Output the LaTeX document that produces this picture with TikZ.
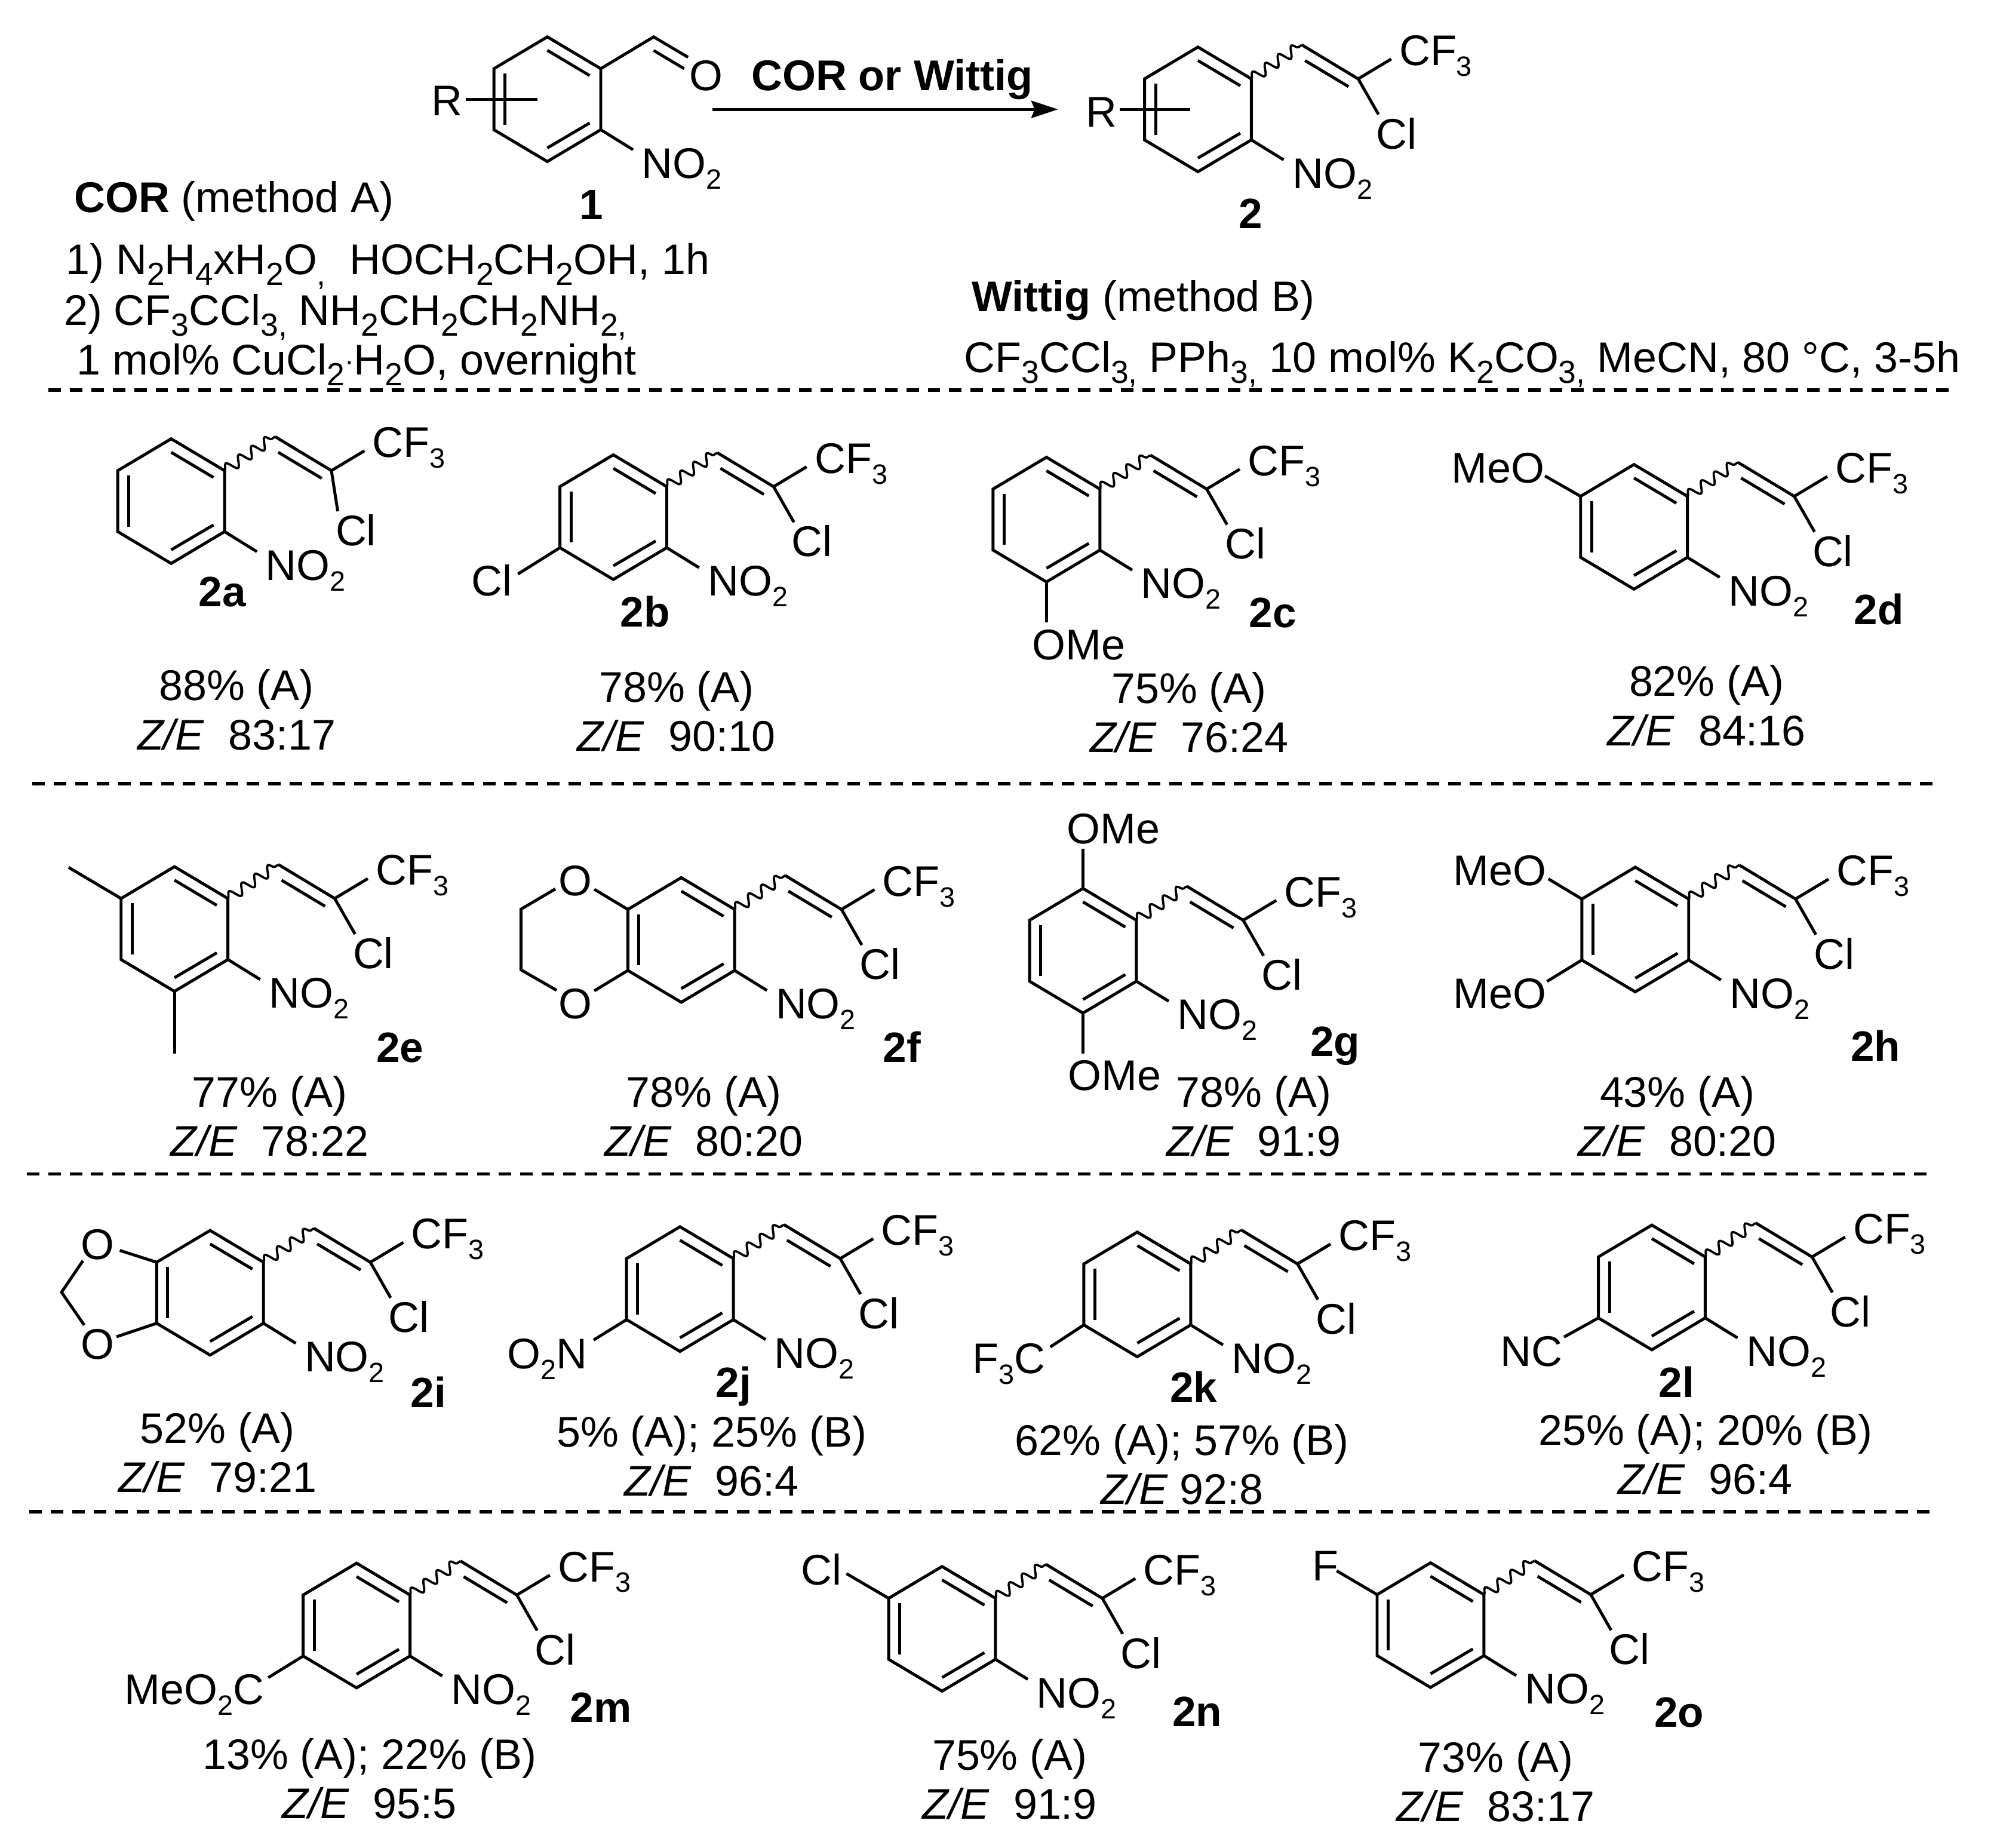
\documentclass[tikz,border=0pt]{standalone}
\usepackage{fontspec}
\setmainfont{Liberation Sans}
\usepackage{tikz}
\usetikzlibrary{arrows.meta}
\usetikzlibrary{decorations.pathmorphing}

\tikzset{
  bond/.style={line width=1.32pt},
  wavy/.style={line width=1pt,decorate,decoration={snake,amplitude=2.4pt,segment length=7pt}},
  divider/.style={line width=1.5pt,dash pattern=on 5.6pt off 4pt},
  txt/.style={anchor=base west,inner sep=0pt},
  mid/.style={anchor=base,inner sep=0pt},
  cpd/.style={txt,font=\fontsize{19}{22}\selectfont\bfseries}
}
\newcommand{\chemsub}[1]{\raisebox{-0.25em}{\fontsize{12.5}{12.5}\selectfont #1}}
% subscripts of the condition lines are a little larger
\newcommand{\condsub}[1]{\raisebox{-0.25em}{\fontsize{14.3}{14.3}\selectfont #1}}
\newcommand{\ze}{\textit{Z/E}}

% ring with the nitro group, (x,y) is the carbon next to the side chain
\newcommand{\arene}[3]{
  \begin{scope}[shift={(#2,#3)}]
    \draw[bond] (0,0) -- (0,48) -- (-42,73) -- (-84,48) -- (-84,0) -- (-42,-25) -- cycle;
    \draw[bond] (-42,-14.4) -- (-8.7,5.4);
    \draw[bond] (-8.7,42.7) -- (-42,62.3);
    \draw[bond] (-75.3,3.8) -- (-75.3,44);
    \draw[bond] (0,48) -- (25.4,63.7);
    \coordinate (#1top) at (-42,-25);
    \coordinate (#1bot) at (-42,73);
    \coordinate (#1ul) at (-84,0);
    \coordinate (#1ll) at (-84,48);
    \node[txt] (#1no) at (32,86) {NO\chemsub{2}};
  \end{scope}
}
% ring plus the chloro-trifluoropropenyl chain
\newcommand{\styrene}[4][16,28]{
  \arene{#2}{#3}{#4}
  \begin{scope}[shift={(#3,#4)}]
    \draw[wavy] (0,0) -- (39.7,-26.7);
    \draw[bond] (39.7,-26.7) -- (84,0) -- (110,-15.6);
    \draw[bond] (42.2,-14.4) -- (76.4,6.1);
    \draw[bond] (84,0) -- ++(#1) coordinate (#2clend);
    \node[txt] (#2cf) at (116,-10.5) {CF\chemsub{3}};
    \node[txt] (#2cl) at ([shift={(-2,27)}]#2clend) {Cl};
  \end{scope}
}
\newcommand{\yield}[5]{
  \node[mid] (#1y) at (#2,#3) {#4};
  \node[mid] (#1r) at (#2,#3+38.7) {#5};
}

\begin{document}
\begin{tikzpicture}[x=0.02cm,y=-0.02cm,font=\fontsize{19.2}{22}\selectfont]
\useasboundingbox (0,0) rectangle (1568,1452.5);

% reaction
\arene{one}{472.4}{54}
\draw[bond] (472.4,54) -- (514,29) -- (541,45);
\draw[bond] (514,39.7) -- (538,54);
\draw[bond] (366.5,78) -- (422.5,78);
\node[txt] (oxygen) at (542,71) {O};
\node[txt] (rone) at (339,91) {R};
\node[cpd] (labelone) at (455.6,172.6) {1};
\node[txt,font=\fontsize{19.25}{22}\selectfont\bfseries] (arrowlabel) at (590.4,71) {COR or Wittig};
\coordinate (arrowstart) at (560,86);
\coordinate (arrowend) at (832,86);
\draw[bond,-{Stealth[length=0.42cm,width=0.27cm,inset=1.5pt]}] (arrowstart) -- (arrowend);
\styrene{two}{984}{62}
\draw[bond] (880.6,86) -- (936,86);
\node[txt] (rtwo) at (853.5,99.8) {R};
\node[cpd] (labeltwo) at (974,179.6) {2};

% conditions
\node[txt] (cor) at (58,167) {\textbf{COR} (method A)};
\node[txt] (corone) at (51.5,216) {1) N\condsub{2}H\condsub{4}xH\condsub{2}O\condsub{,}\ \ HOCH\condsub{2}CH\condsub{2}OH, 1h};
\node[txt] (cortwo) at (50,255.5) {2) CF\condsub{3}CCl\condsub{3,} NH\condsub{2}CH\condsub{2}CH\condsub{2}NH\condsub{2,}};
\node[txt] (corthree) at (60,294.8) {1 mol\% CuCl\condsub{2}\raisebox{0.1em}{\fontsize{12.5}{12.5}\selectfont ·}H\condsub{2}O, overnight};
\node[txt] (wittig) at (764,245) {\textbf{Wittig} (method B)};
\node[txt] (wittigcond) at (758,292.6) {CF\condsub{3}CCl\condsub{3,} PPh\condsub{3,} 10 mol\% K\condsub{2}CO\condsub{3,} MeCN, 80 °C, 3-5h};

\draw[divider] (38,306.5) -- (1535,306.5);
\draw[divider] (25.5,616) -- (1522,616);
\draw[divider] (21,923) -- (1517,923);
\draw[divider] (23,1188.6) -- (1520,1188.6);

% first row
\styrene[5,32]{a}{176.6}{370}
\node[cpd] (labela) at (156,476.9) {2a};
\yield{a}{186}{550.7}{88\% (A)}{\ze\ \ 83:17}

\styrene{b}{524.3}{382.6}
\draw[bond] (bll) -- ++(-33,20.7);
\node[txt] (bcl2) at (370.5,468.5) {Cl};
\node[cpd] (labelb) at (487.5,493) {2b};
\yield{b}{532}{551.8}{78\% (A)}{\ze\ \ 90:10}

\styrene{c}{864.9}{384.5}
\draw[bond] (cbot) -- ++(0,32);
\node[txt] (come) at (811.5,518.7) {OMe};
\node[cpd] (labelc) at (982,493.4) {2c};
\yield{c}{935}{552.8}{75\% (A)}{\ze\ \ 76:24}

\styrene{d}{1326.9}{390.2}
\draw[bond] (dul) -- ++(-28,-16);
\node[txt] (dmeo) at (1141,379.7) {MeO};
\node[cpd] (labeld) at (1457.6,490.9) {2d};
\yield{d}{1342}{547.4}{82\% (A)}{\ze\ \ 84:16}

% second row
\styrene{e}{179.2}{706.4}
\draw[bond] (eul) -- ++(-41.2,-24.4);
\draw[bond] (ebot) -- ++(0,49);
\node[cpd] (labele) at (295.7,835) {2e};
\yield{e}{212}{870.3}{77\% (A)}{\ze\ \ 78:22}

\styrene{f}{577.7}{715}
\draw[bond] (ful) -- ++(-26.4,-15.8);
\draw[bond] (fll) -- ++(-26.4,16);
\draw[bond] (436.7,698.9) -- (409.7,714.8) -- (409.7,762.5) -- (437.7,778.6);
\node[txt] (foup) at (439,704.2) {O};
\node[txt] (folow) at (439,800.7) {O};
\node[cpd] (labelf) at (694,835.4) {2f};
\yield{f}{553.5}{870.3}{78\% (A)}{\ze\ \ 80:20}

\styrene{g}{893.6}{723.5}
\draw[bond] (gtop) -- ++(0,-31);
\draw[bond] (gbot) -- ++(0,32);
\node[txt] (gomeup) at (838.5,663.3) {OMe};
\node[txt] (gomelow) at (839.5,857.3) {OMe};
\node[cpd] (labelg) at (1030,830.4) {2g};
\yield{g}{986}{870.3}{78\% (A)}{\ze\ \ 91:9}

\styrene{h}{1327.9}{706.8}
\draw[bond] (hul) -- ++(-26.3,-15.8);
\draw[bond] (hll) -- ++(-27.4,16.8);
\node[txt] (hmeoup) at (1142.5,696) {MeO};
\node[txt] (hmeolow) at (1142.5,792.7) {MeO};
\node[cpd] (labelh) at (1455,834) {2h};
\yield{h}{1319}{870.3}{43\% (A)}{\ze\ \ 80:20}

% third row
\styrene{i}{207.2}{992.4}
\draw[bond] (iul) -- ++(-29,-9.3);
\draw[bond] (ill) -- ++(-31.6,10.6);
\draw[bond] (65.2,991.2) -- (48.4,1016) -- (66.2,1041.8);
\node[txt] (ioup) at (63.5,990.3) {O};
\node[txt] (iolow) at (63.5,1068.7) {O};
\node[cpd] (labeli) at (322.7,1106.6) {2i};
\yield{i}{171}{1134.6}{52\% (A)}{\ze\ \ 79:21}

\styrene{j}{576.7}{989.5}
\draw[bond] (jll) -- ++(-25.9,16);
\node[txt] (jotwon) at (398.6,1076.2) {O\chemsub{2}N};
\node[cpd] (labelj) at (562.5,1098.5) {2j};
\yield{j}{559.6}{1137.6}{5\% (A); 25\% (B)}{\ze\ \ 96:4}

\styrene{k}{936.3}{993.7}
\draw[bond] (kll) -- ++(-26.4,17.3);
\node[txt] (kfc) at (764.5,1080) {F\chemsub{3}C};
\node[cpd] (labelk) at (919.7,1102.2) {2k};
\yield{k}{929.5}{1144.1}{62\% (A); 57\% (B)}{\ze\ 92:8}

\styrene{l}{1340.9}{988.2}
\draw[bond] (lll) -- ++(-27,15);
\node[txt] (lnc) at (1179.5,1074.2) {NC};
\node[cpd] (labell) at (1304,1098.5) {2l};
\yield{l}{1341}{1136.2}{25\% (A); 20\% (B)}{\ze\ \ 96:4}

% last row
\styrene{m}{322.4}{1254}
\draw[bond] (mll) -- ++(-27.5,17);
\node[txt] (mester) at (97.6,1339.9) {MeO\chemsub{2}C};
\node[cpd] (labelm) at (448,1354.3) {2m};
\yield{m}{290.5}{1391}{13\% (A); 22\% (B)}{\ze\ \ 95:5}

\styrene{n}{782.8}{1256.6}
\draw[bond] (nul) -- ++(-33.2,-19.4);
\node[txt] (ncl2) at (629.5,1246) {Cl};
\node[cpd] (labeln) at (921.5,1357.2) {2n};
\yield{n}{794}{1391.5}{75\% (A)}{\ze\ \ 91:9}

\styrene{o}{1166.9}{1253.7}
\draw[bond] (oul) -- ++(-31.8,-18.7);
\node[txt] (ofl) at (1031.5,1243) {F};
\node[cpd] (labelo) at (1300.5,1357.6) {2o};
\yield{o}{1176}{1393.5}{73\% (A)}{\ze\ \ 83:17}
\end{tikzpicture}
\end{document}
